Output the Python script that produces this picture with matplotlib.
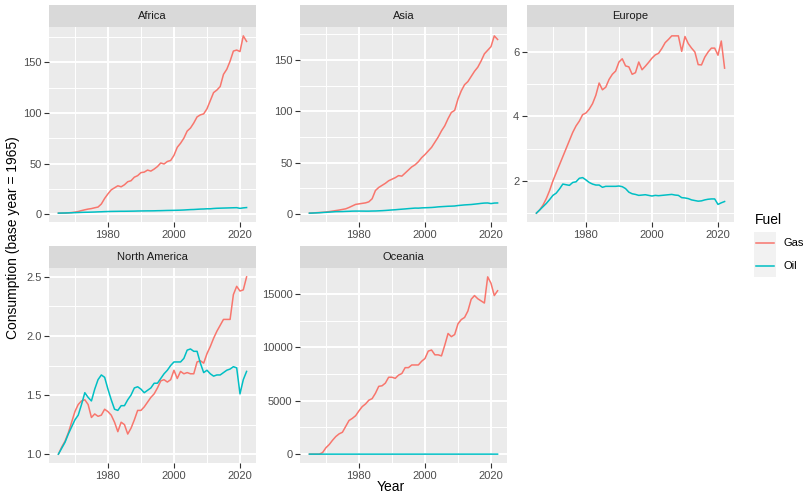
import numpy as np
import matplotlib
matplotlib.use('Agg')
import matplotlib.pyplot as plt
from matplotlib.ticker import MultipleLocator

plt.rcParams['font.family'] = ['Liberation Sans', 'DejaVu Sans']

# Datos (consumo relativo al año base 1965)
years = np.arange(1965, 2023)

africa_gas = [1.0, 1.0, 1.1, 1.3, 1.6, 2.0, 2.6, 3.5, 4.3, 5.0,
              5.5, 6.3, 7.0, 10.0, 15.5, 20.0, 24.0, 26.0, 28.0, 27.0,
              29.0, 32.0, 33.0, 36.5, 38.0, 41.0, 41.5, 43.5, 42.5, 44.5,
              47.0, 50.5, 49.5, 52.0, 53.0, 58.0, 66.0, 70.0, 75.0, 82.0,
              85.0, 90.0, 96.0, 98.0, 99.0, 104.0, 112.0, 120.0, 122.5, 126.0,
              138.0, 143.0, 151.0, 161.0, 162.0, 160.5, 176.0, 170.5]
africa_oil = [1.0, 1.1, 1.15, 1.25, 1.35, 1.5, 1.6, 1.75, 1.85, 1.9,
              2.0, 2.1, 2.25, 2.35, 2.5, 2.6, 2.7, 2.75, 2.8, 2.85,
              2.85, 2.9, 2.95, 3.0, 3.1, 3.15, 3.2, 3.25, 3.25, 3.3,
              3.4, 3.45, 3.55, 3.65, 3.7, 3.75, 3.85, 3.95, 4.1, 4.3,
              4.5, 4.6, 4.8, 5.0, 5.1, 5.3, 5.3, 5.6, 5.8, 5.9,
              6.0, 6.1, 6.2, 6.3, 6.4, 5.7, 6.2, 6.5]

asia_gas = [1.0, 1.2, 1.4, 1.6, 1.8, 2.1, 2.5, 3.0, 3.5, 4.0,
            4.6, 5.2, 6.5, 8.0, 9.5, 10.0, 10.5, 11.0, 12.0, 15.0,
            23.0, 26.0, 28.0, 30.0, 32.5, 34.0, 35.5, 37.5, 37.0, 40.0,
            43.0, 46.0, 48.0, 51.0, 55.0, 58.0, 61.5, 65.0, 70.0, 75.0,
            81.0, 86.0, 93.0, 99.0, 101.0, 112.0, 120.0, 126.0, 129.0, 134.0,
            139.0, 143.0, 149.0, 156.0, 159.5, 163.0, 173.5, 170.0]
asia_oil = [1.0, 1.1, 1.25, 1.4, 1.6, 1.8, 2.0, 2.2, 2.45, 2.5,
            2.55, 2.7, 2.8, 2.95, 3.0, 3.0, 3.0, 2.95, 2.95, 3.05,
            3.1, 3.25, 3.4, 3.6, 3.85, 4.1, 4.3, 4.6, 4.85, 5.1,
            5.4, 5.65, 5.9, 5.85, 6.1, 6.25, 6.35, 6.5, 6.75, 7.1,
            7.3, 7.5, 7.7, 7.8, 7.95, 8.4, 8.7, 9.0, 9.2, 9.4,
            9.75, 10.1, 10.5, 10.8, 10.9, 10.3, 10.8, 10.9]

europe_gas = [1.0, 1.1, 1.25, 1.45, 1.7, 2.0, 2.25, 2.5, 2.75, 3.0,
              3.25, 3.5, 3.7, 3.85, 4.05, 4.1, 4.22, 4.39, 4.65, 5.03,
              4.82, 4.9, 5.14, 5.3, 5.4, 5.68, 5.78, 5.56, 5.53, 5.3,
              5.35, 5.68, 5.44, 5.55, 5.67, 5.8, 5.9, 5.95, 6.1, 6.28,
              6.38, 6.49, 6.49, 6.49, 6.01, 6.47, 6.25, 6.11, 5.99, 5.6,
              5.59, 5.83, 5.99, 6.11, 6.11, 5.89, 6.33, 5.49]
europe_oil = [1.0, 1.1, 1.2, 1.3, 1.42, 1.55, 1.62, 1.75, 1.9, 1.88,
              1.86, 1.95, 1.97, 2.08, 2.1, 2.03, 1.95, 1.9, 1.87, 1.87,
              1.8, 1.83, 1.83, 1.83, 1.83, 1.84, 1.82, 1.76, 1.65, 1.6,
              1.58, 1.55, 1.56, 1.57, 1.55, 1.53, 1.55, 1.54, 1.55, 1.56,
              1.57, 1.58, 1.56, 1.55, 1.48, 1.47, 1.45, 1.41, 1.39, 1.37,
              1.38, 1.41, 1.43, 1.44, 1.44, 1.27, 1.32, 1.36]

na_gas = [1.0, 1.06, 1.11, 1.18, 1.27, 1.36, 1.42, 1.45, 1.46, 1.42,
          1.31, 1.34, 1.32, 1.33, 1.38, 1.36, 1.33, 1.27, 1.19, 1.27,
          1.25, 1.17, 1.22, 1.29, 1.37, 1.37, 1.40, 1.44, 1.48, 1.51,
          1.56, 1.62, 1.63, 1.61, 1.63, 1.71, 1.64, 1.70, 1.68, 1.69,
          1.68, 1.68, 1.78, 1.79, 1.77, 1.85, 1.91, 1.98, 2.04, 2.09,
          2.14, 2.14, 2.14, 2.35, 2.42, 2.38, 2.39, 2.50]
na_oil = [1.0, 1.05, 1.10, 1.17, 1.23, 1.29, 1.33, 1.42, 1.52, 1.48,
          1.45, 1.55, 1.63, 1.67, 1.65, 1.55, 1.46, 1.38, 1.37, 1.41,
          1.41, 1.46, 1.50, 1.56, 1.57, 1.55, 1.52, 1.54, 1.56, 1.60,
          1.60, 1.64, 1.68, 1.71, 1.75, 1.78, 1.78, 1.78, 1.81, 1.88,
          1.89, 1.87, 1.87, 1.77, 1.69, 1.71, 1.68, 1.66, 1.67, 1.67,
          1.69, 1.71, 1.72, 1.74, 1.73, 1.51, 1.63, 1.70]

oceania_gas = [1, 1, 1, 1, 150, 600, 900, 1300, 1650, 1900,
               2050, 2600, 3150, 3350, 3600, 4050, 4450, 4700, 5050, 5200,
               5700, 6350, 6400, 6650, 7200, 7200, 7100, 7400, 7550, 8100,
               8100, 8350, 8350, 8350, 8700, 8950, 9650, 9750, 9300, 9300,
               9200, 10200, 11300, 11000, 11200, 12200, 12600, 12800, 13400, 14500,
               14850, 14550, 14350, 14150, 16600, 16000, 14850, 15300]
oceania_oil = [1.0, 1.05, 1.1, 1.15, 1.2, 1.25, 1.3, 1.35, 1.4, 1.4,
               1.45, 1.5, 1.5, 1.55, 1.55, 1.5, 1.45, 1.4, 1.4, 1.4,
               1.4, 1.45, 1.45, 1.5, 1.55, 1.55, 1.55, 1.6, 1.6, 1.65,
               1.7, 1.7, 1.75, 1.75, 1.8, 1.8, 1.8, 1.85, 1.85, 1.85,
               1.9, 1.9, 1.95, 1.95, 1.9, 1.95, 2.0, 2.05, 2.1, 2.1,
               2.1, 2.15, 2.15, 2.2, 2.2, 1.9, 1.95, 2.0]

regions = ['Africa', 'Asia', 'Europe', 'North America', 'Oceania']
gas_series = [africa_gas, asia_gas, europe_gas, na_gas, oceania_gas]
oil_series = [africa_oil, asia_oil, europe_oil, na_oil, oceania_oil]
y_steps = [50, 50, 2, 0.5, 5000]

gas_color = '#F8766D'
oil_color = '#00BFC4'

W, H = 805, 494
fig = plt.figure(figsize=(W / 100, H / 100), dpi=100)
fig.set_facecolor('white')


def px_axes(l, t, r, b):
    return fig.add_axes([l / W, 1 - b / H, (r - l) / W, (b - t) / H])


# posiciones de los paneles en pixeles (izq, arriba, der, abajo)
panel_boxes = [(49, 27, 256, 222), (300, 27, 507, 222), (527, 27, 734, 222),
               (49, 268, 256, 463), (300, 268, 507, 463)]
strip_h = 22

for name, gas, oil, step, box in zip(regions, gas_series, oil_series, y_steps, panel_boxes):
    l, t, r, b = box
    ax = px_axes(l, t, r, b)
    ax.set_facecolor('#EBEBEB')
    ax.plot(years, gas, color=gas_color, lw=1.1)
    ax.plot(years, oil, color=oil_color, lw=1.1)
    ax.margins(x=0.05, y=0.05)

    ax.xaxis.set_major_locator(MultipleLocator(20))
    ax.xaxis.set_minor_locator(MultipleLocator(10))
    ax.yaxis.set_major_locator(MultipleLocator(step))
    ax.yaxis.set_minor_locator(MultipleLocator(step / 2))

    ax.set_axisbelow(True)
    ax.grid(which='major', color='white', lw=1.4)
    ax.grid(which='minor', color='white', lw=0.7)
    for s in ax.spines.values():
        s.set_visible(False)
    ax.tick_params(which='major', length=3.5, width=0.8, color='#333333',
                   labelsize=8, labelcolor='#4D4D4D', pad=2)
    ax.tick_params(which='minor', length=0)

    # tira con el nombre de la region
    sax = px_axes(l, t - strip_h, r, t)
    sax.set_facecolor('#D9D9D9')
    sax.set_xticks([])
    sax.set_yticks([])
    for s in sax.spines.values():
        s.set_visible(False)
    sax.text(0.5, 0.5, name, ha='center', va='center', fontsize=8,
             color='#1A1A1A', transform=sax.transAxes)

# titulos de los ejes
fig.text(13 / W, 1 - 238 / H, 'Consumption (base year = 1965)', rotation=90,
         ha='center', va='center', fontsize=10, color='black')
fig.text(391 / W, 1 - 487 / H, 'Year', ha='center', va='center',
         fontsize=10, color='black')

# leyenda
fig.text(755 / W, 1 - 220 / H, 'Fuel', ha='left', va='center', fontsize=10)
kax = px_axes(754, 232, 776, 277)
kax.set_facecolor('#F2F2F2')
kax.set_xlim(0, 1)
kax.set_ylim(0, 1)
kax.set_xticks([])
kax.set_yticks([])
for s in kax.spines.values():
    s.set_visible(False)
kax.plot([0.1, 0.9], [0.75, 0.75], color=gas_color, lw=1.1)
kax.plot([0.1, 0.9], [0.25, 0.25], color=oil_color, lw=1.1)
fig.text(783 / W, 1 - 243 / H, 'Gas', ha='left', va='center', fontsize=8)
fig.text(783 / W, 1 - 266 / H, 'Oil', ha='left', va='center', fontsize=8)

fig.savefig('out.png', dpi=100)
